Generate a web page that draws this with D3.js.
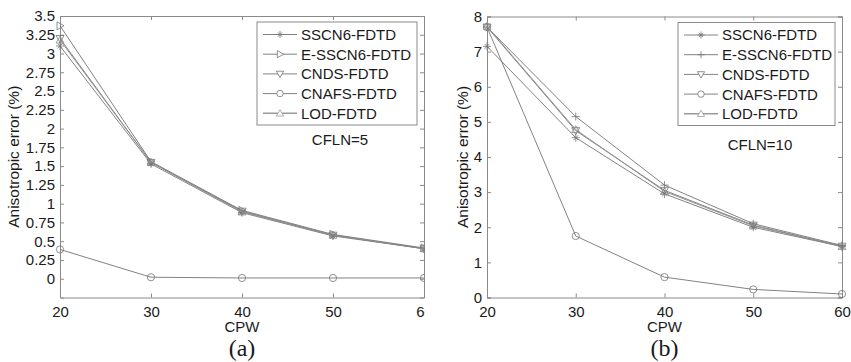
<!DOCTYPE html>
<html>
<head>
<meta charset="utf-8">
<script src="https://cdn.jsdelivr.net/npm/d3@7"></script>
<style>
  html, body { margin: 0; padding: 0; background: #fff; }
  svg { display: block; }
  text { font-family: "Liberation Sans", Arial, Helvetica, sans-serif; fill: #1a1a1a; }
</style>
</head>
<body>
<svg id="chart" width="851" height="362"></svg>
<script>
// CPW sample points shared by both panels
const cpw = [20, 30, 40, 50, 60];
const seriesNames = ["SSCN6-FDTD", "E-SSCN6-FDTD", "CNDS-FDTD", "CNAFS-FDTD", "LOD-FDTD"];

// Panel (a): CFLN = 5
const errA_SSCN6  = [3.10, 1.53, 0.88, 0.57, 0.40];
const errA_ESSCN6 = [3.37, 1.56, 0.91, 0.59, 0.41];
const errA_CNDS   = [3.20, 1.55, 0.90, 0.58, 0.40];
const errA_CNAFS  = [0.39, 0.02, 0.01, 0.01, 0.01];
const errA_LOD    = [3.18, 1.55, 0.89, 0.58, 0.40];
const markersA    = ["star", "triRight", "triDown", "circle", "triUp"];
const yTicksA     = [0, 0.25, 0.5, 0.75, 1, 1.25, 1.5, 1.75, 2, 2.25, 2.5, 2.75, 3, 3.25, 3.5];

// Panel (b): CFLN = 10
const errB_SSCN6  = [7.15, 4.55, 2.95, 2.00, 1.45];
const errB_ESSCN6 = [7.70, 5.15, 3.20, 2.10, 1.48];
const errB_CNDS   = [7.70, 4.75, 3.05, 2.06, 1.46];
const errB_CNAFS  = [7.70, 1.75, 0.58, 0.23, 0.10];
const errB_LOD    = [7.72, 4.78, 3.02, 2.04, 1.45];
const markersB    = ["star", "plus", "triDown", "circle", "triUp"];
const yTicksB     = [0, 1, 2, 3, 4, 5, 6, 7, 8];

const xTicks = [20, 30, 40, 50, 60];

const svg = d3.select("#chart");
svg.append("rect").attr("width", 851).attr("height", 362).attr("fill", "#fff");

const lineGray = "#747474";
const axisGray = "#8a8a8a";

// Marker path generator (centered at 0,0)
function markerPath(type, s) {
  switch (type) {
    case "plus": return `M${-s},0H${s}M0,${-s}V${s}`;
    case "star": {
      const d = s * 0.6;
      return `M${-s},0H${s}M0,${-s}V${s}M${-d},${-d}L${d},${d}M${-d},${d}L${d},${-d}`;
    }
    case "triUp":    return `M0,${-s}L${s},${s * 0.75}L${-s},${s * 0.75}Z`;
    case "triDown":  return `M0,${s}L${s},${-s * 0.75}L${-s},${-s * 0.75}Z`;
    case "triRight": return `M${s},0L${-s * 0.75},${-s}L${-s * 0.75},${s}Z`;
    case "circle": {
      const r = s * 0.9;
      return `M${r},0A${r},${r} 0 1,1 ${-r},0A${r},${r} 0 1,1 ${r},0Z`;
    }
  }
  return "";
}

function drawPanel(cfg) {
  const g = svg.append("g");
  if (cfg.clipRight) {
    const id = "clip-" + cfg.tag;
    svg.append("defs").append("clipPath").attr("id", id)
      .append("rect").attr("x", 0).attr("y", 0).attr("width", cfg.clipRight).attr("height", 362);
    g.attr("clip-path", `url(#${id})`);
  }
  const x = d3.scaleLinear().domain([20, 60]).range([cfg.left, cfg.right]);
  const y = d3.scaleLinear().domain(cfg.yDomain).range([cfg.bottom, cfg.top]);
  const tickLen = 4;

  // Bottom axis with inward ticks
  const xAxis = d3.axisBottom(x).tickValues(xTicks).tickSize(-tickLen).tickPadding(9).tickFormat(d3.format("d"));
  const gx = g.append("g").attr("transform", `translate(0,${cfg.bottom})`).call(xAxis);
  // Left axis with inward ticks
  const yAxis = d3.axisLeft(y).tickValues(cfg.yTicks).tickSize(-tickLen).tickPadding(5).tickFormat(d => String(d));
  const gy = g.append("g").attr("transform", `translate(${cfg.left},0)`).call(yAxis);
  // Top and right mirrored tick marks (box)
  const gt = g.append("g").attr("transform", `translate(0,${cfg.top})`)
    .call(d3.axisTop(x).tickValues(xTicks).tickSize(-tickLen).tickFormat(""));
  const gr = g.append("g").attr("transform", `translate(${cfg.right},0)`)
    .call(d3.axisRight(y).tickValues(cfg.yTicks).tickSize(-tickLen).tickFormat(""));

  [gx, gy, gt, gr].forEach(a => {
    a.select(".domain").attr("stroke", axisGray).attr("stroke-width", 1);
    a.selectAll(".tick line").attr("stroke", axisGray);
    a.selectAll(".tick text").attr("font-size", 15).attr("fill", "#1a1a1a")
      .style("font-family", '"Liberation Sans", Arial, sans-serif');
  });

  // Series lines and markers
  const line = d3.line().x((d, i) => x(cpw[i])).y(d => y(d));
  cfg.series.forEach((vals, k) => {
    const color = k === 4 ? "#8c8c8c" : lineGray;
    g.append("path").datum(vals).attr("d", line)
      .attr("fill", "none").attr("stroke", color).attr("stroke-width", 0.9);
    g.selectAll(null).data(vals).join("path")
      .attr("transform", (d, i) => `translate(${x(cpw[i])},${y(d)})`)
      .attr("d", markerPath(cfg.markers[k], 4))
      .attr("fill", "none").attr("stroke", color).attr("stroke-width", 0.8);
  });

  // Legend
  const lg = g.append("g");
  lg.append("rect").attr("x", cfg.legend.x).attr("y", cfg.legend.y)
    .attr("width", cfg.legend.w).attr("height", cfg.legend.h)
    .attr("fill", "#fff").attr("stroke", axisGray).attr("stroke-width", 1);
  seriesNames.forEach((name, k) => {
    const cy = cfg.legend.y + 12.5 + k * 19.7;
    const x0 = cfg.legend.x + 6, x1 = x0 + 34;
    const color = k === 4 ? "#9a9a9a" : lineGray;
    lg.append("line").attr("x1", x0).attr("x2", x1).attr("y1", cy).attr("y2", cy)
      .attr("stroke", color).attr("stroke-width", k === 4 ? 1.6 : 0.9);
    lg.append("path").attr("transform", `translate(${(x0 + x1) / 2},${cy})`)
      .attr("d", markerPath(cfg.markers[k], 3.6))
      .attr("fill", "#fff").attr("stroke", color).attr("stroke-width", 0.8);
    lg.append("text").attr("x", x1 + 4).attr("y", cy).attr("dy", "0.36em")
      .attr("font-size", 15).text(name);
  });

  // Annotation
  g.append("text").attr("x", cfg.note.x).attr("y", cfg.note.y).attr("dy", "0.36em")
    .attr("text-anchor", "middle").attr("font-size", 15).text(cfg.note.text);

  // Axis titles
  g.append("text").attr("x", (cfg.left + cfg.right) / 2).attr("y", 327).attr("dy", "0.36em")
    .attr("text-anchor", "middle").attr("font-size", 15).text("CPW");
  g.append("text")
    .attr("transform", `translate(${cfg.yLabelX},${(cfg.top + cfg.bottom) / 2}) rotate(-90)`)
    .attr("dy", "0.36em").attr("text-anchor", "middle").attr("font-size", 15.5)
    .text("Anisotropic error (%)");

  // Panel caption
  g.append("text").attr("x", (cfg.left + cfg.right) / 2).attr("y", 356)
    .attr("text-anchor", "middle").attr("font-size", 24)
    .style("font-family", '"Liberation Serif", "Times New Roman", serif')
    .text(cfg.caption);
}

drawPanel({
  tag: "a", left: 60, right: 424, top: 16, bottom: 297.5,
  yDomain: [-0.25, 3.5], yTicks: yTicksA,
  series: [errA_SSCN6, errA_ESSCN6, errA_CNDS, errA_CNAFS, errA_LOD],
  markers: markersA,
  legend: { x: 257, y: 22, w: 160, h: 103 },
  note: { text: "CFLN=5", x: 340, y: 140 },
  yLabelX: 13, caption: "(a)", clipRight: 425
});

drawPanel({
  tag: "b", left: 487, right: 842, top: 16.5, bottom: 297.5,
  yDomain: [0, 8], yTicks: yTicksB,
  series: [errB_SSCN6, errB_ESSCN6, errB_CNDS, errB_CNAFS, errB_LOD],
  markers: markersB,
  legend: { x: 678, y: 22.5, w: 157, h: 103 },
  note: { text: "CFLN=10", x: 760, y: 145 },
  yLabelX: 462, caption: "(b)"
});
</script>
</body>
</html>
